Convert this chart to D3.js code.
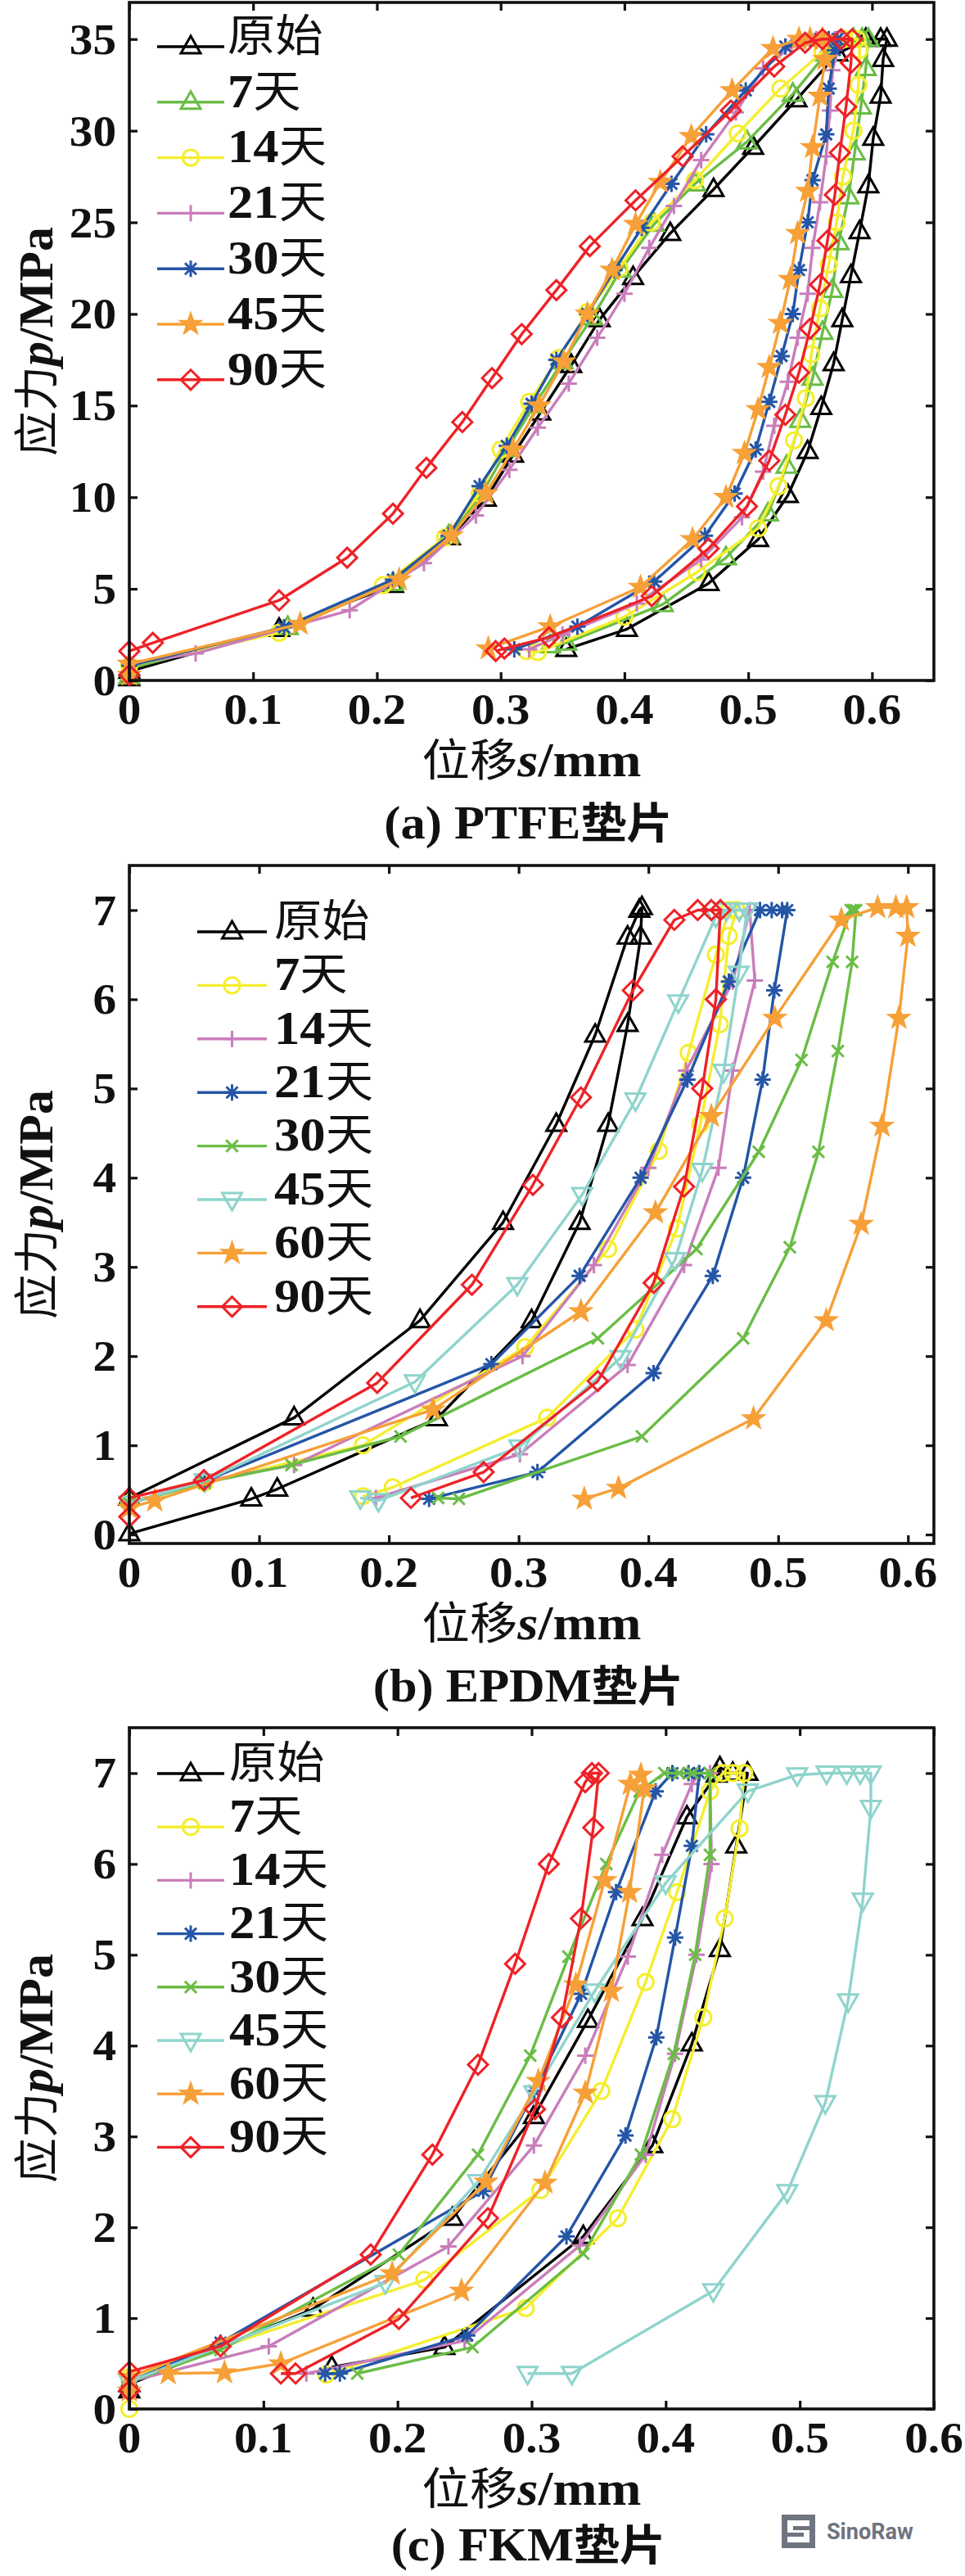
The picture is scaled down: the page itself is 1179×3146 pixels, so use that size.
<!DOCTYPE html>
<html><head><meta charset="utf-8">
<script src="https://cdn.jsdelivr.net/npm/d3@7"></script>
<style>body{margin:0;background:#fff}</style>
</head><body>
<svg id="chart" width="1179" height="3146" xmlns="http://www.w3.org/2000/svg"></svg>
<script>
// ---------------- DATA ----------------
// tick labels
const xTicksA = [0, 0.1, 0.2, 0.3, 0.4, 0.5, 0.6];
const yTicksA = [0, 5, 10, 15, 20, 25, 30, 35];
const xTicksB = [0, 0.1, 0.2, 0.3, 0.4, 0.5, 0.6];
const yTicksB = [0, 1, 2, 3, 4, 5, 6, 7];
const xTicksC = [0, 0.1, 0.2, 0.3, 0.4, 0.5, 0.6];
const yTicksC = [0, 1, 2, 3, 4, 5, 6, 7];

// categories
const namesA = ["原始", "7天", "14天", "21天", "30天", "45天", "90天"];
const namesB = ["原始", "7天", "14天", "21天", "30天", "45天", "60天", "90天"];
const namesC = ["原始", "7天", "14天", "21天", "30天", "45天", "60天", "90天"];

// (a) PTFE  [s (mm), p (MPa)]
const ptfe0 = [[0,0.1],[0,0.5],[0.121,2.8],[0.213,5.2],[0.259,7.8],[0.288,9.9],[0.31,12.3],[0.332,14.6],[0.357,17.2],[0.380,19.7],[0.407,22.0],[0.437,24.4],[0.472,26.8],[0.504,29.1],[0.539,31.7],[0.572,34.2],[0.595,35],[0.607,35],[0.612,35],[0.609,33.9],[0.607,31.9],[0.601,29.6],[0.597,27.0],[0.590,24.5],[0.583,22.1],[0.576,19.7],[0.569,17.3],[0.559,14.9],[0.548,12.5],[0.532,10.1],[0.508,7.7],[0.468,5.3],[0.402,2.8],[0.353,1.7]];
const ptfe7 = [[0,0.2],[0,0.65],[0.128,2.9],[0.213,5.3],[0.258,7.9],[0.285,10.2],[0.305,12.6],[0.327,15.0],[0.350,17.4],[0.374,19.8],[0.397,22.4],[0.424,24.9],[0.457,27.1],[0.499,29.4],[0.536,32.0],[0.563,34.2],[0.585,35],[0.592,35],[0.597,35],[0.595,33.4],[0.591,31.3],[0.586,28.8],[0.581,26.4],[0.573,23.9],[0.568,21.3],[0.560,19.0],[0.552,16.5],[0.542,14.2],[0.531,11.7],[0.516,9.1],[0.482,6.7],[0.431,4.15],[0.353,2.05],[0.34,1.9]];
const ptfe14 = [[0,0.3],[0,0.8],[0.121,2.6],[0.205,5.2],[0.255,7.8],[0.283,10.2],[0.300,12.6],[0.323,15.2],[0.347,17.6],[0.370,20.1],[0.396,22.5],[0.422,25.0],[0.457,27.3],[0.4915,29.85],[0.526,32.3],[0.56,34.3],[0.578,35],[0.588,35],[0.590,34.4],[0.589,32.5],[0.585,30.0],[0.5765,27.5],[0.5715,25.0],[0.565,22.7],[0.558,20.3],[0.551,17.8],[0.5465,15.4],[0.537,13.1],[0.5245,10.6],[0.508,8.3],[0.4585,5.9],[0.400,3.47],[0.33,1.55],[0.321,1.6]];
const ptfe21 = [[0,0.3],[0,0.9],[0.0536,1.47],[0.178,3.83],[0.238,6.4],[0.280,9.0],[0.307,11.5],[0.330,13.8],[0.355,16.2],[0.378,18.7],[0.400,21.1],[0.420,23.6],[0.440,25.9],[0.462,28.4],[0.49,31.0],[0.512,33.4],[0.535,34.6],[0.555,35],[0.57,35],[0.575,35],[0.568,33.3],[0.566,31.1],[0.563,28.6],[0.558,26.1],[0.552,23.6],[0.548,21.1],[0.540,18.7],[0.532,16.3],[0.521,13.9],[0.512,11.4],[0.495,8.9],[0.462,6.6],[0.41,4.2],[0.35,2.5],[0.323,1.7]];
const ptfe30 = [[0,0.3],[0,0.8],[0.125,2.9],[0.213,5.5],[0.258,7.9],[0.283,10.6],[0.305,12.8],[0.325,15.1],[0.345,17.5],[0.370,20.0],[0.392,22.4],[0.414,24.7],[0.438,27.1],[0.466,29.8],[0.498,32.2],[0.530,34.6],[0.55,35],[0.565,35],[0.572,35],[0.57,34.4],[0.565,32.3],[0.563,29.8],[0.552,27.3],[0.548,25.0],[0.541,22.4],[0.536,20.0],[0.527,17.7],[0.517,15.2],[0.506,12.6],[0.489,10.2],[0.465,7.9],[0.424,5.4],[0.362,2.94],[0.311,1.7]];
const ptfe45 = [[0,0.3],[0,0.9],[0.138,3.08],[0.218,5.5],[0.260,7.9],[0.288,10.2],[0.310,12.6],[0.331,15.0],[0.351,17.4],[0.370,20.0],[0.390,22.4],[0.409,24.9],[0.429,27.2],[0.454,29.7],[0.487,32.2],[0.520,34.5],[0.541,35],[0.55,35],[0.56,35],[0.562,33.9],[0.558,31.9],[0.552,29.1],[0.548,26.7],[0.540,24.4],[0.534,21.9],[0.526,19.5],[0.517,17.1],[0.508,14.8],[0.497,12.4],[0.482,10.0],[0.455,7.7],[0.413,5.1],[0.340,2.94],[0.290,1.74]];
const ptfe90 = [[0,0.3],[0,1.6],[0.019,2.05],[0.121,4.37],[0.176,6.7],[0.213,9.1],[0.240,11.6],[0.269,14.1],[0.293,16.5],[0.317,18.9],[0.345,21.3],[0.372,23.7],[0.409,26.2],[0.447,28.6],[0.486,31.1],[0.521,33.5],[0.546,34.8],[0.56,35],[0.575,35],[0.584,35],[0.583,33.7],[0.579,31.3],[0.574,28.8],[0.570,26.5],[0.564,24.0],[0.558,21.6],[0.550,19.2],[0.541,16.8],[0.530,14.5],[0.517,12.0],[0.499,9.5],[0.468,7.2],[0.422,4.6],[0.339,2.35],[0.303,1.74],[0.296,1.6]];

// (b) EPDM
const epdm0 = [[0,0.41],[0.127,1.31],[0.224,2.40],[0.288,3.50],[0.329,4.60],[0.359,5.60],[0.384,6.70],[0.393,7.0],[0.395,7.03],[0.394,6.70],[0.384,5.72],[0.369,4.6],[0.347,3.5],[0.31,2.4],[0.237,1.30],[0.114,0.51],[0.094,0.40],[0,0.01]];
const epdm7 = [[0,0.35],[0.058,0.58],[0.18,1.0],[0.305,2.1],[0.369,3.2],[0.408,4.3],[0.431,5.4],[0.452,6.5],[0.462,7.0],[0.468,7.0],[0.462,6.71],[0.455,5.72],[0.44,4.6],[0.422,3.43],[0.39,2.3],[0.322,1.31],[0.203,0.53],[0.18,0.43]];
const epdm14 = [[0,0.35],[0.058,0.6],[0.127,0.78],[0.303,2.0],[0.358,3.02],[0.400,4.11],[0.429,5.2],[0.465,6.2],[0.478,7.0],[0.482,6.21],[0.465,5.2],[0.454,4.11],[0.4275,3.02],[0.384,1.9],[0.301,0.9],[0.19,0.41]];
const epdm21 = [[0,0.35],[0.058,0.6],[0.279,1.91],[0.347,2.9],[0.394,4.0],[0.43,5.1],[0.462,6.2],[0.486,7.0],[0.495,7.0],[0.503,7.0],[0.507,7.0],[0.497,6.1],[0.488,5.1],[0.473,4.0],[0.4496,2.9],[0.404,1.81],[0.3145,0.70],[0.231,0.40]];
const epdm30 = [[0,0.35],[0.058,0.58],[0.125,0.78],[0.209,1.10],[0.361,2.2],[0.437,3.2],[0.485,4.29],[0.518,5.32],[0.542,6.42],[0.556,7.0],[0.558,7.0],[0.560,7.0],[0.557,6.42],[0.546,5.42],[0.531,4.29],[0.509,3.22],[0.473,2.2],[0.395,1.1],[0.254,0.40],[0.238,0.41]];
const epdm45 = [[0,0.35],[0.058,0.6],[0.22,1.71],[0.299,2.8],[0.349,3.81],[0.390,4.87],[0.423,5.97],[0.452,6.93],[0.46,7.0],[0.47,7.0],[0.476,7.0],[0.4695,6.29],[0.458,5.19],[0.4415,4.08],[0.4205,3.08],[0.3786,1.98],[0.3005,0.98],[0.192,0.38],[0.178,0.41]];
const epdm60 = [[0,0.3],[0.0196,0.38],[0.234,1.40],[0.348,2.5],[0.4054,3.61],[0.4485,4.69],[0.4974,5.79],[0.5487,6.89],[0.5767,7.03],[0.5907,7.03],[0.599,7.03],[0.6,6.71],[0.593,5.79],[0.58,4.58],[0.564,3.48],[0.537,2.4],[0.481,1.3],[0.377,0.52],[0.3506,0.40]];
const epdm90 = [[0,0.2],[0,0.41],[0.0575,0.61],[0.191,1.70],[0.264,2.80],[0.311,3.92],[0.348,4.9],[0.388,6.1],[0.42,6.89],[0.438,7.0],[0.4485,7.0],[0.4555,7.0],[0.452,6.0],[0.4415,5.0],[0.4275,3.9],[0.404,2.82],[0.361,1.72],[0.273,0.70],[0.217,0.41]];

// (c) FKM
const fkm0 = [[0,0.2],[0,0.27],[0.137,1.1],[0.241,2.1],[0.3017,3.22],[0.342,4.28],[0.3827,5.4],[0.4158,6.52],[0.438,6.98],[0.4404,7.06],[0.45,7.0],[0.461,7.0],[0.4526,6.2],[0.4404,5.06],[0.4195,4.02],[0.39,2.9],[0.3385,1.9],[0.235,0.68],[0.151,0.46]];
const fkm7 = [[0,0.0],[0,0.35],[0.22,1.42],[0.3066,2.41],[0.352,3.5],[0.385,4.7],[0.4085,5.69],[0.433,6.8],[0.4425,7.0],[0.45,7.0],[0.4586,7.0],[0.455,6.39],[0.444,5.4],[0.428,4.31],[0.4048,3.19],[0.3643,2.1],[0.2956,1.11],[0.147,0.38]];
const fkm14 = [[0,0.3],[0.104,0.69],[0.238,1.79],[0.3017,2.9],[0.34,3.89],[0.3717,4.98],[0.3974,6.1],[0.4195,6.88],[0.425,7.0],[0.433,7.0],[0.4342,6.0],[0.423,5.0],[0.407,3.91],[0.385,2.8],[0.336,1.8],[0.25,0.75],[0.132,0.39]];
const fkm21 = [[0,0.3],[0.068,0.73],[0.264,2.4],[0.302,3.5],[0.337,4.57],[0.363,5.69],[0.3925,6.8],[0.405,7.0],[0.417,7.0],[0.425,7.0],[0.4195,6.2],[0.407,5.19],[0.393,4.09],[0.37,3.01],[0.326,1.9],[0.252,0.81],[0.157,0.39],[0.146,0.39]];
const fkm30 = [[0,0.3],[0.068,0.65],[0.201,1.7],[0.26,2.8],[0.299,3.89],[0.3275,4.98],[0.3557,6.0],[0.3805,6.8],[0.399,7.0],[0.41,7.0],[0.42,7.0],[0.433,7.0],[0.433,6.1],[0.422,5.0],[0.406,3.91],[0.3815,2.8],[0.3385,1.71],[0.256,0.68],[0.17,0.39]];
const fkm45 = [[0,0.3],[0.191,1.39],[0.26,2.5],[0.302,3.48],[0.347,4.6],[0.4,5.79],[0.4612,6.8],[0.498,6.98],[0.52,7.0],[0.535,7.0],[0.545,7.0],[0.553,7.0],[0.553,6.62],[0.547,5.6],[0.536,4.49],[0.519,3.37],[0.4907,2.39],[0.4355,1.3],[0.33,0.39],[0.297,0.39]];
const fkm60 = [[0,0.2],[0,0.35],[0.196,1.49],[0.266,2.5],[0.305,3.61],[0.333,4.67],[0.3545,5.82],[0.3736,6.88],[0.3815,6.98],[0.384,6.83],[0.373,5.69],[0.3594,4.6],[0.34,3.48],[0.31,2.49],[0.2477,1.3],[0.113,0.5],[0.071,0.40],[0.029,0.39]];
const fkm90 = [[0,0.2],[0,0.41],[0.068,0.69],[0.18,1.7],[0.226,2.8],[0.26,3.79],[0.2877,4.9],[0.3128,6.0],[0.34,6.9],[0.345,7.0],[0.35,7.0],[0.346,6.4],[0.3368,5.4],[0.3226,4.31],[0.3025,3.3],[0.2674,2.1],[0.201,0.99],[0.124,0.39],[0.113,0.39]];

// ---------------- STYLE ----------------
const C = {black:"#000000", green:"#6ABD45", yellow:"#F4EE2E", pink:"#C97DBA", blue:"#2455A6", orange:"#F6A037", red:"#EE2227", cyan:"#8FD4CC"};
const SERIF = "'Liberation Serif','Times New Roman',serif";
const CJK = "'Noto Sans CJK SC','Noto Sans CJK JP',sans-serif";
const SX = 1.08; // horizontal stretch of lettering in the source figure

const panels = [
  {top:3, bottom:831, xDomain:[0,0.65], yDomain:[0,37], xTicks:xTicksA, yTicks:yTicksA,
   names:namesA, data:[ptfe0,ptfe7,ptfe14,ptfe21,ptfe30,ptfe45,ptfe90],
   colors:[C.black,C.green,C.yellow,C.pink,C.blue,C.orange,C.red],
   markers:["triUp","triUp","circle","plus","asterisk","star","diamond"],
   legend:{x0:192,x1:274,tx:278,y0:57,dy:67.8}, caption:["(a) PTFE","垫片"], capY:1024},
  {top:1057, bottom:1885, xDomain:[0,0.62], yDomain:[-0.1,7.5], xTicks:xTicksB, yTicks:yTicksB,
   names:namesB, data:[epdm0,epdm7,epdm14,epdm21,epdm30,epdm45,epdm60,epdm90],
   colors:[C.black,C.yellow,C.pink,C.blue,C.green,C.cyan,C.orange,C.red],
   markers:["triUp","circle","plus","asterisk","x","triDown","star","diamond"],
   legend:{x0:241,x1:326,tx:335,y0:1138,dy:65.4}, caption:["(b) EPDM","垫片"], capY:2078},
  {top:2110, bottom:2942, xDomain:[0,0.6], yDomain:[0,7.5], xTicks:xTicksC, yTicks:yTicksC,
   names:namesC, data:[fkm0,fkm7,fkm14,fkm21,fkm30,fkm45,fkm60,fkm90],
   colors:[C.black,C.yellow,C.pink,C.blue,C.green,C.cyan,C.orange,C.red],
   markers:["triUp","circle","plus","asterisk","x","triDown","star","diamond"],
   legend:{x0:192,x1:274,tx:280,y0:2166,dy:65.2}, caption:["(c) FKM","垫片"], capY:3127}
];

const LEFT = 158, RIGHT = 1141;

function markerPath(type, r) {
  switch (type) {
    case "triUp": return `M0,${-r}L${0.92*r},${0.62*r}L${-0.92*r},${0.62*r}Z`;
    case "triDown": return `M0,${r}L${0.92*r},${-0.62*r}L${-0.92*r},${-0.62*r}Z`;
    case "circle": { const c = 0.8*r; return `M${c},0A${c},${c} 0 1,1 ${-c},0A${c},${c} 0 1,1 ${c},0Z`; }
    case "plus": return `M${-r},0H${r}M0,${-r}V${r}`;
    case "asterisk": { const d = 0.7*r; return `M${-r},0H${r}M0,${-r}V${r}M${-d},${-d}L${d},${d}M${-d},${d}L${d},${-d}`; }
    case "x": { const e = 0.72*r; return `M${-e},${-e}L${e},${e}M${-e},${e}L${e},${-e}`; }
    case "diamond": return `M0,${-r}L${r},0L0,${r}L${-r},0Z`;
    case "star": {
      let p = "";
      for (let i = 0; i < 10; i++) {
        const rr = (i % 2 === 0) ? 1.15*r : 0.46*r;
        const a = -Math.PI/2 + i*Math.PI/5;
        p += (i ? "L" : "M") + (rr*Math.cos(a)).toFixed(2) + "," + (rr*Math.sin(a)).toFixed(2);
      }
      return p + "Z";
    }
  }
}
function markerR(type){ return {triUp:13, triDown:13, circle:12, plus:10, asterisk:10, x:10, diamond:12, star:12.5}[type]; }

// a text anchored at (x,y), stretched horizontally like the source lettering
function stext(parent, x, y, anchor) {
  return parent.append("g").attr("transform", `translate(${x},${y}) scale(${SX},1)`)
    .append("text").attr("x", 0).attr("y", 0).attr("text-anchor", anchor).attr("fill", "#111");
}

const svg = d3.select("#chart");
svg.append("rect").attr("width",1179).attr("height",3146).attr("fill","#fff");

panels.forEach(P => {
  const x = d3.scaleLinear().domain(P.xDomain).range([LEFT, RIGHT]);
  const y = d3.scaleLinear().domain(P.yDomain).range([P.bottom, P.top]);
  const g = svg.append("g");

  // series
  const line = d3.line().x(d => x(d[0])).y(d => y(d[1]));
  P.data.forEach((ser, i) => {
    const col = P.colors[i], mk = P.markers[i], r = markerR(mk);
    g.append("path").attr("d", line(ser)).attr("fill","none").attr("stroke",col)
      .attr("stroke-width",3.4).attr("stroke-linejoin","round");
    g.selectAll(null).data(ser).enter().append("path")
      .attr("transform", d => `translate(${x(d[0])},${y(d[1])})`)
      .attr("d", markerPath(mk, r))
      .attr("fill", mk === "star" ? col : "none")
      .attr("stroke", col).attr("stroke-width", mk === "star" ? 1.5 : 3)
      .attr("stroke-linejoin","miter");
  });

  // axes frame + inward ticks
  const axisCol = "#111";
  const xb = d3.axisBottom(x).tickValues(P.xTicks).tickSizeInner(-10).tickSizeOuter(0).tickFormat("");
  const xt = d3.axisTop(x).tickValues(P.xTicks).tickSizeInner(-10).tickSizeOuter(0).tickFormat("");
  const yl = d3.axisLeft(y).tickValues(P.yTicks).tickSizeInner(-10).tickSizeOuter(0).tickFormat("");
  const yr = d3.axisRight(y).tickValues(P.yTicks).tickSizeInner(-10).tickSizeOuter(0).tickFormat("");
  [[xb,`translate(0,${P.bottom})`],[xt,`translate(0,${P.top})`],[yl,`translate(${LEFT},0)`],[yr,`translate(${RIGHT},0)`]].forEach(([ax,tr]) => {
    const a = g.append("g").attr("transform", tr).call(ax);
    a.select(".domain").remove();
    a.selectAll(".tick line").attr("stroke", axisCol).attr("stroke-width", 3.2);
  });
  g.append("rect").attr("x",LEFT).attr("y",P.top).attr("width",RIGHT-LEFT).attr("height",P.bottom-P.top)
    .attr("fill","none").attr("stroke",axisCol).attr("stroke-width",3.6);

  // tick labels
  P.xTicks.forEach(d => {
    stext(g, x(d), P.bottom + 53, "middle")
      .attr("font-family", SERIF).attr("font-weight","bold").attr("font-size",53).text(String(d));
  });
  P.yTicks.forEach(d => {
    stext(g, LEFT - 16, y(d), "end").attr("dy","0.34em")
      .attr("font-family", SERIF).attr("font-weight","bold").attr("font-size",53).text(String(d));
  });

  // x axis title
  const xt1 = stext(g, (LEFT+RIGHT)/2, P.bottom+117, "middle");
  xt1.append("tspan").attr("font-family",CJK).attr("font-size",54).text("位移");
  xt1.append("tspan").attr("font-family",SERIF).attr("font-weight","bold").attr("font-style","italic").attr("font-size",60).text("s");
  xt1.append("tspan").attr("font-family",SERIF).attr("font-weight","bold").attr("font-size",60).text("/mm");

  // y axis title
  const yt = g.append("text").attr("transform",`translate(64,${(P.top+P.bottom)/2}) rotate(-90)`).attr("text-anchor","middle").attr("fill","#111");
  yt.append("tspan").attr("font-family",CJK).attr("font-size",55).text("应力");
  yt.append("tspan").attr("font-family",SERIF).attr("font-weight","bold").attr("font-style","italic").attr("font-size",60).text("p");
  yt.append("tspan").attr("font-family",SERIF).attr("font-weight","bold").attr("font-size",60).text("/MPa");

  // caption
  const cap = stext(g, (LEFT+RIGHT)/2 - 4, P.capY, "middle");
  cap.append("tspan").attr("font-family",SERIF).attr("font-weight","bold").attr("font-size",56).text(P.caption[0]);
  cap.append("tspan").attr("font-family",CJK).attr("font-weight","bold").attr("font-size",52).text(P.caption[1]);

  // legend
  const L = P.legend;
  P.names.forEach((nm, i) => {
    const yy = L.y0 + i*L.dy, col = P.colors[i], mk = P.markers[i];
    g.append("line").attr("x1",L.x0).attr("x2",L.x1).attr("y1",yy).attr("y2",yy).attr("stroke",col).attr("stroke-width",3.4);
    g.append("path").attr("transform",`translate(${(L.x0+L.x1)/2},${yy})`).attr("d",markerPath(mk, markerR(mk)))
      .attr("fill", mk === "star" ? col : "none").attr("stroke",col).attr("stroke-width", mk === "star" ? 1.5 : 3);
    const t = stext(g, L.tx, yy, "start").attr("dy","0.36em");
    const m = nm.match(/^(\d*)(.*)$/);
    if (m[1]) t.append("tspan").attr("font-family",SERIF).attr("font-weight","bold").attr("font-size",58).text(m[1]);
    t.append("tspan").attr("font-family",CJK).attr("font-size",54).text(m[2]);
  });
});

// SinoRaw logo
const lg = svg.append("g");
lg.append("rect").attr("x",955).attr("y",3071).attr("width",41).attr("height",41).attr("fill","#6f7480");
lg.append("path").attr("d","M962,3078H989V3085H969V3090H989V3105H962V3098H982V3093H962Z").attr("fill","#fff");
lg.append("text").attr("x",1010).attr("y",3101).attr("font-family","Roboto, 'Noto Sans', sans-serif").attr("font-weight","bold")
  .attr("font-size",27).attr("fill","#6f7480").text("SinoRaw");
</script>
</body></html>
